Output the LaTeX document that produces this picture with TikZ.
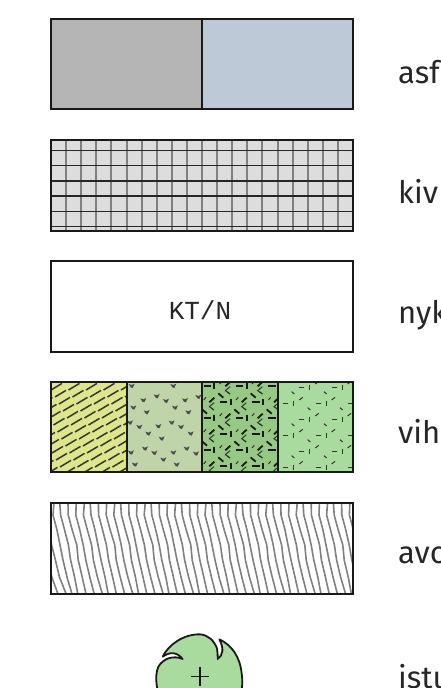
\documentclass[tikz,border=0pt]{standalone}
\usepackage{fontspec}
\setmainfont{Fira Sans}
\setmonofont{Liberation Mono}
\definecolor{asfA}{HTML}{B5B5B5}
\definecolor{asfB}{HTML}{BDC9D6}
\definecolor{stone}{HTML}{DDDDDD}
\definecolor{gridv}{HTML}{808080}
\definecolor{ylw}{HTML}{DFE58E}
\definecolor{sage}{HTML}{C0D4A9}
\definecolor{midg}{HTML}{98C885}
\definecolor{ligg}{HTML}{A9DA9E}
\definecolor{markd}{HTML}{2E3A28}
\tikzset{
  box/.style={draw=black!90,line width=1.8pt},
  lab/.style={anchor=base west,inner sep=0pt,font=\fontsize{31}{31}\selectfont,text=black!85},
  thinm/.style={draw=markd,line width=1pt},
  thickm/.style={draw=black!90,line width=1.8pt},
}
\begin{document}
\begin{tikzpicture}[x=1pt,y=-1pt]
\useasboundingbox (0,0) rectangle (440,688);
\clip (0,0) rectangle (440,688);
% asphalt
\fill[asfA] (51,19) rectangle (202,109);
\fill[asfB] (202,19) rectangle (353,109);
\draw[box] (51,19) rectangle (353,109);
\draw[box] (202,19) -- (202,109);
\node[lab] (t1) at (398,83) {asf};
% stone grid
\fill[stone] (51,140) rectangle (353,231);
\foreach \k in {1,...,19} \draw[gridv,line width=2pt] ({51+15.1*\k},140) -- ({51+15.1*\k},231);
\foreach \k in {1,...,5} \draw[black!85,line width=1.2pt] (51,{135.6+15.1*\k}) -- (353,{135.6+15.1*\k});
\draw[black!85,line width=1.2pt] (51,226.5) -- (353,226.5);
\draw[box] (51,140) rectangle (353,231);
\node[lab] (t2) at (398,203) {kiv};
% KT/N
\draw[box] (51,261) rectangle (353,352);
\node[font=\ttfamily\fontsize{26}{26}\selectfont,text=black!85,inner sep=0pt] (kt) at (200,310) {KT/N};
\node[lab] (t3) at (398,323) {nyk};
% greens
\fill[ylw] (51,382) rectangle (127,472);
\fill[sage] (127,382) rectangle (202,472);
\fill[midg] (202,382) rectangle (278,472);
\fill[ligg] (278,382) rectangle (353,472);
\begin{scope}
\clip (51,382) rectangle (127,472);
\foreach \j in {0,...,14} \foreach \i in {-4,...,5}
  \draw[markd,line width=1.5pt] ({51+\i*17.5+mod(\j*4,17.5)},{390+\j*7}) -- ++(11,-6.6);
\end{scope}
\begin{scope}[shift={(40,370)},x=0.3333pt,y=-0.3333pt]
\foreach \X/\Y in {275/47,400/47,350/78,310/90,378/92,435/90,475/80,280/112,405/112,320/126,445/126,270/157,395/157,298/170,355/168,423/170,325/190,452/190,365/205,315/235,440/235,273/247,343/248,400/247,468/250,370/268,285/283,410/283}
  \fill[black!70] (\X-9,\Y-5) -- (\X,\Y-2) -- (\X+9,\Y-6) -- (\X+3,\Y+7) -- (\X-3,\Y+5) -- cycle;
\end{scope}
\begin{scope}
\clip (202,382) rectangle (278,472);
\begin{scope}[shift={(200,370)},x=0.3333pt,y=-0.3333pt]
\foreach \r in {-1,...,6} \foreach \c in {-1,...,3} {
  \begin{scope}[shift={({\c*97+mod(\r+8,2)*48},{\r*48})}]
    \draw[thickm] (60,97) -- (82,97);
    \draw[thickm] (92,88) -- (92,106);
    \draw[thickm] (55,70) -- (70,83);
    \draw[thinm] (82,65) -- (90,72);
    \draw[thinm] (108,90) -- (115,82);
    \draw[thickm] (125,97) -- (140,83);
    \draw[thinm] (42,98) -- (28,110) -- (42,120);
  \end{scope}}
\end{scope}
\end{scope}
\begin{scope}
\clip (278,382) rectangle (353,472);
\begin{scope}[shift={(200,370)},x=0.3333pt,y=-0.3333pt]
\foreach \r in {-2,...,6} \foreach \c in {0,...,3} {
  \begin{scope}[shift={({\c*97+mod(\r+8,2)*48},{\r*48})}]
    \draw[thinm] (250,100) -- (265,100);
    \draw[thinm] (282,92) -- (282,108);
    \draw[thinm] (275,65) -- (283,72);
    \draw[thinm] (298,90) -- (308,82);
  \end{scope}}
\end{scope}
\end{scope}
\draw[box] (51,382) rectangle (353,472);
\foreach \x in {127,202,278} \draw[box] (\x,382) -- (\x,472);
\node[lab] (t4) at (398,443) {vih};
% wavy
\begin{scope}
\clip (51,503) rectangle (353,594);
\foreach \k in {-4,...,40} {
  \pgfmathsetmacro{\a}{mod(\k*7,5)}
  \pgfmathsetmacro{\b}{mod(\k*3,4)}
  \pgfmathsetmacro{\xs}{51+7.6*\k}
  \draw[black!50,line width=1.6pt,line join=round]
    (\xs+3-\b*0.6,503) -- (\xs+2,515) -- (\xs+6,530) -- (\xs+9+\a*0.4,545)
    -- (\xs+12,560) -- (\xs+16,577) -- (\xs+21-\b*0.6,594);
}
\end{scope}
\draw[box] (51,503) rectangle (353,594);
\node[lab] (t5) at (398,563) {avo};
% tree
\begin{scope}[shift={(140,620)},x=0.3333pt,y=-0.3333pt]
\draw[draw=black!90,line width=1.8pt,fill=ligg,line join=round]
  (68,110) .. controls (85,75) and (130,42) .. (180,43)
  .. controls (205,45) and (222,62) .. (231,85)
  .. controls (233,95) and (233,105) .. (233,117)
  .. controls (250,105) and (252,85) .. (238,58)
  .. controls (275,75) and (300,110) .. (305,160)
  .. controls (310,190) and (305,230) .. (290,260)
  -- (70,260) .. controls (50,220) and (42,170) .. (55,140)
  .. controls (70,115) and (100,105) .. (128,117)
  .. controls (110,95) and (90,95) .. (68,110) -- cycle;
\draw[black!90,line width=1.6pt] (152,170) -- (208,170) (180,142) -- (180,198);
\end{scope}
\node[lab] (t6) at (398,688) {istu};
\end{tikzpicture}
\end{document}
